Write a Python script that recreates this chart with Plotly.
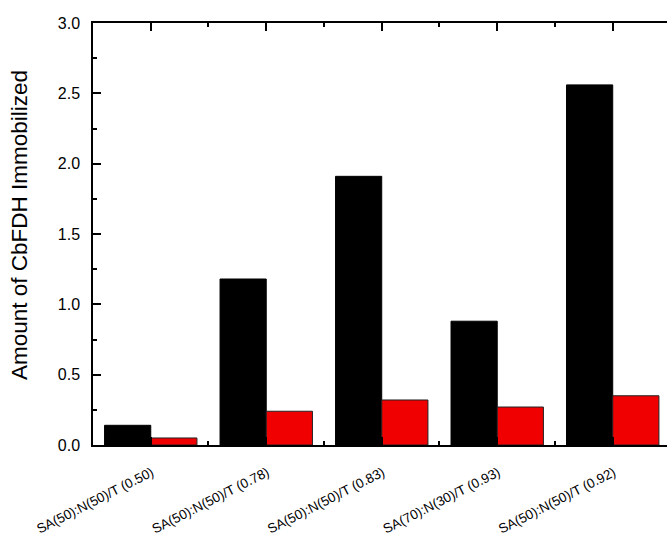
import plotly.graph_objects as go

# Sample categories and immobilized amounts for the two series
categories = [
    "SA(50):N(50)/T (0.50)",
    "SA(50):N(50)/T (0.78)",
    "SA(50):N(50)/T (0.83)",
    "SA(70):N(30)/T (0.93)",
    "SA(50):N(50)/T (0.92)",
]
series_black = [0.14, 1.18, 1.91, 0.88, 2.56]
series_red = [0.05, 0.24, 0.32, 0.27, 0.35]

positions = list(range(1, len(categories) + 1))
minor_positions = [p + 0.5 for p in positions[:-1]]

font_family = "Arial, Liberation Sans, sans-serif"

fig = go.Figure()
fig.add_trace(go.Bar(
    x=positions, y=series_black,
    marker=dict(color="#000000", line=dict(color="#000000", width=1)),
    showlegend=False,
))
fig.add_trace(go.Bar(
    x=positions, y=series_red,
    marker=dict(color="#F00000", line=dict(color="#222222", width=1)),
    showlegend=False,
))

axis_common = dict(
    ticks="inside",
    tickcolor="black",
    tickwidth=1.5,
    ticklen=8,
    showgrid=False,
    zeroline=False,
    automargin=False,
)

fig.update_layout(
    width=667,
    height=538,
    margin=dict(l=93, r=0, t=23, b=93),
    paper_bgcolor="white",
    plot_bgcolor="white",
    barmode="group",
    bargap=0.2,
    bargroupgap=0,
    font=dict(family=font_family, color="black"),
    xaxis=dict(
        range=[0.5, 5.47],
        tickmode="array",
        tickvals=positions,
        ticktext=categories,
        tickangle=-27,
        tickfont=dict(size=13.4, family=font_family, color="black"),
        ticklabelstandoff=13,
        ticklabelshift=1,
        showline=True,
        linecolor="black",
        linewidth=1.5,
        mirror="ticks",
        minor=dict(tickmode="array", tickvals=minor_positions, ticks="inside",
                   ticklen=4, tickwidth=1.5, tickcolor="black"),
        **axis_common,
    ),
    yaxis=dict(
        range=[0, 3.0],
        tickmode="linear",
        tick0=0,
        dtick=0.5,
        tickformat=".1f",
        tickfont=dict(size=16, family=font_family, color="black"),
        ticklabelstandoff=8,
        showline=True,
        linecolor="black",
        linewidth=1.5,
        mirror=False,
        minor=dict(dtick=0.25, ticks="inside", ticklen=4, tickwidth=1.5,
                   tickcolor="black"),
        **axis_common,
    ),
    yaxis2=dict(
        overlaying="y",
        side="right",
        anchor="x",
        range=[0, 3.0],
        tickmode="linear",
        tick0=0,
        dtick=0.5,
        showticklabels=False,
        showline=False,
        minor=dict(dtick=0.25, ticks="inside", ticklen=4, tickwidth=1.5,
                   tickcolor="black"),
        **axis_common,
    ),
    annotations=[dict(
        text="Amount of CbFDH Immobilized",
        textangle=-90,
        xref="paper", yref="paper",
        x=-0.128, y=0.52,
        xanchor="center", yanchor="middle",
        showarrow=False,
        font=dict(size=22.5, family=font_family, color="black"),
    )],
)

fig.write_html("out.html")
